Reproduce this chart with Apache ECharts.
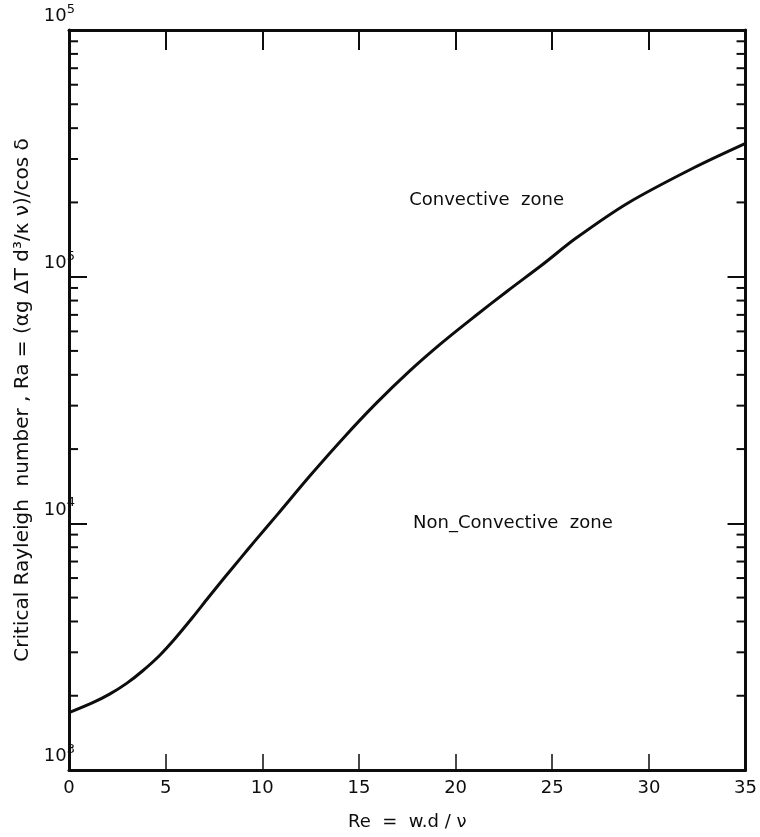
<!DOCTYPE html>
<html>
<head>
<meta charset="utf-8">
<script src="https://cdn.jsdelivr.net/npm/echarts@6/dist/echarts.min.js"></script>
<style>
  html, body { margin: 0; padding: 0; background: #ffffff; }
  #chart { width: 760px; height: 837px; }
</style>
</head>
<body>
<div id="chart"></div>
<script>
// Critical Rayleigh number versus Reynolds number (neutral stability curve)
const reValues = [0, 1.2, 2.1, 3.0, 3.8, 4.7, 5.5, 6.4, 7.2, 8.1, 8.9, 9.6, 10.8, 12.5,
                  14.2, 15.9, 17.6, 19.3, 21.0, 22.7, 24.5, 26.2, 28.9, 32.3, 35];
const raValues = [1708, 1870, 2030, 2250, 2520, 2920, 3420, 4160, 4990, 6100, 7260, 8450,
                  10900, 15700, 22200, 30700, 41300, 54000, 69100, 87700, 112000, 142700,
                  198500, 275700, 347000];

// Decade labels on the Ra axis, bottom to top, as printed
const yDecades = [3, 4, 5, 6];
const yTickBase = '10';
const yTickExp = ['3', '4', '5', '5'];

const xTitle = 'Re  =  w.d / ν';
const yTitle = 'Critical Rayleigh  number , Ra = (αg ΔT d³/κ ν)/cos δ';
const zoneTexts = ['Convective  zone', 'Non_Convective  zone'];

const curve = reValues.map((re, i) => [re, raValues[i]]);

// 2..9 × 10^k positions for the short log ticks on both frame sides
const minorTicks = [];
for (let k = yDecades[0]; k < yDecades[yDecades.length - 1]; k++) {
  for (let m = 2; m <= 9; m++) minorTicks.push([0, m * Math.pow(10, k)]);
}

const FONT = 'DejaVu Sans';
const INK = '#0d0d0d';

const chart = echarts.init(document.getElementById('chart'));

const xCommon = {
  type: 'value', min: 0, max: 35, interval: 5,
  splitLine: { show: false },
  axisLine: { show: true, onZero: false, lineStyle: { color: INK, width: 3 } }
};
const yCommon = {
  type: 'log', logBase: 10, min: 1000, max: 1000000,
  splitLine: { show: false },
  minorTick: { show: false },
  axisLine: { show: true, onZero: false, lineStyle: { color: INK, width: 3 } },
  axisTick: { show: true, inside: true, length: 18, lineStyle: { color: INK, width: 2 } }
};

chart.setOption({
  backgroundColor: '#ffffff',
  animation: false,
  grid: { left: 69, right: 7, top: 30, bottom: 67, containLabel: false },
  xAxis: [
    Object.assign({}, xCommon, {
      position: 'bottom',
      name: xTitle,
      nameLocation: 'middle',
      nameGap: 43,
      nameTextStyle: { fontFamily: FONT, fontSize: 18, color: INK },
      axisTick: { show: true, inside: true, length: 16, lineStyle: { color: INK, width: 1.5 } },
      axisLabel: { show: true, margin: 9, fontFamily: FONT, fontSize: 18, color: INK }
    }),
    Object.assign({}, xCommon, {
      position: 'top',
      axisTick: { show: true, inside: true, length: 20, lineStyle: { color: INK, width: 2 } },
      axisLabel: { show: false }
    })
  ],
  yAxis: [
    Object.assign({}, yCommon, {
      position: 'left',
      name: yTitle,
      nameLocation: 'middle',
      nameGap: 35,
      nameRotate: 90,
      nameTextStyle: { fontFamily: FONT, fontSize: 20, color: INK },
      axisLabel: {
        show: true,
        margin: -6,
        verticalAlign: 'bottom',
        formatter: function (v) {
          const i = yDecades.indexOf(Math.round(Math.log10(v)));
          return i < 0 ? '' : '{b|' + yTickBase + '}{s|' + yTickExp[i] + '}';
        },
        rich: {
          b: { fontFamily: FONT, fontSize: 18, color: INK },
          s: { fontFamily: FONT, fontSize: 13, color: INK, padding: [0, 0, 14, 0] }
        }
      }
    }),
    Object.assign({}, yCommon, {
      position: 'right',
      axisLabel: { show: false }
    })
  ],
  series: [
    {
      type: 'line',
      data: curve,
      smooth: 0.3,
      showSymbol: false,
      symbol: 'none',
      lineStyle: { color: INK, width: 3 },
      z: 5,
      markPoint: {
        symbol: 'circle',
        symbolSize: 0,
        silent: true,
        label: {
          show: true,
          position: 'right',
          distance: 0,
          fontFamily: FONT,
          fontSize: 18,
          color: INK,
          formatter: function (p) { return p.name; }
        },
        data: [
          { name: zoneTexts[0], coord: [17.6, 203000] },
          { name: zoneTexts[1], coord: [17.8, 10000] }
        ]
      }
    },
    {
      type: 'custom',
      silent: true,
      clip: false,
      data: minorTicks,
      z: 6,
      renderItem: function (params, api) {
        const cs = params.coordSys;
        const y = api.coord([0, api.value(1)])[1];
        const len = 9;
        const st = { stroke: INK, lineWidth: 2 };
        return {
          type: 'group',
          children: [
            { type: 'line', shape: { x1: cs.x, y1: y, x2: cs.x + len, y2: y }, style: st },
            { type: 'line', shape: { x1: cs.x + cs.width - len, y1: y, x2: cs.x + cs.width, y2: y }, style: st }
          ]
        };
      }
    }
  ]
});
</script>
</body>
</html>
